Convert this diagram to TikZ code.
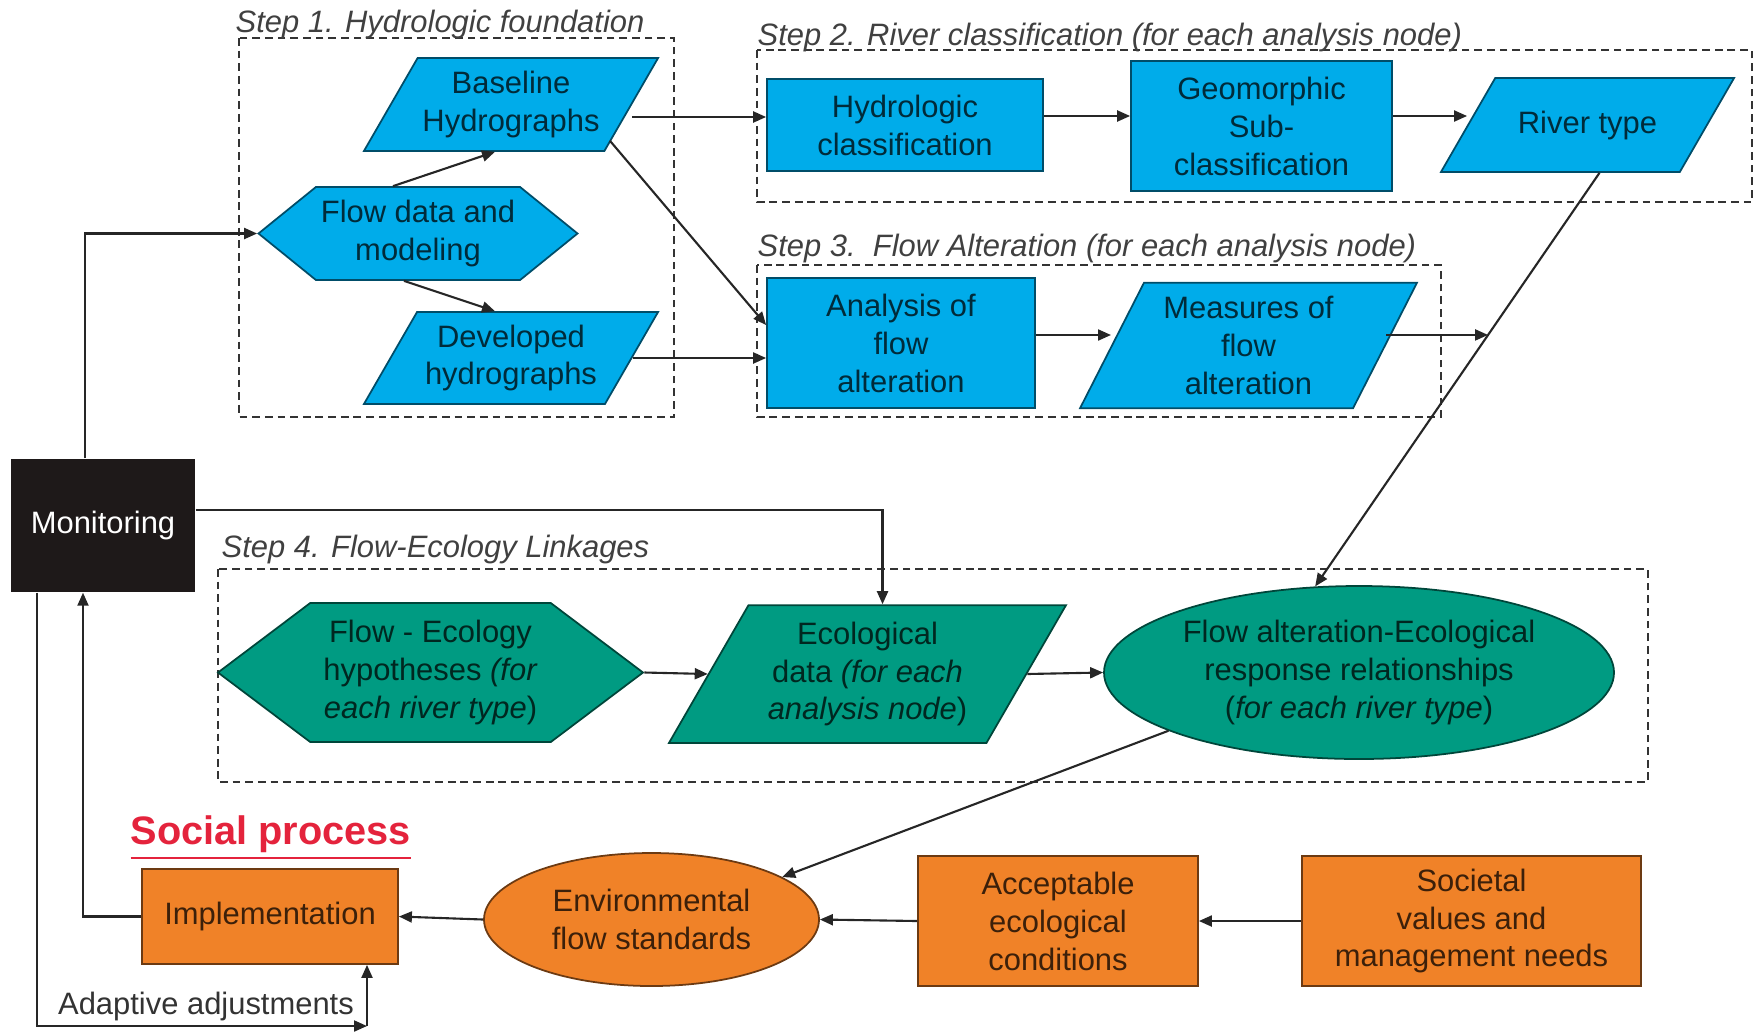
\documentclass[tikz,border=0pt]{standalone}
\usepackage{fontspec}
\setmainfont{Liberation Sans}
\usetikzlibrary{arrows.meta,positioning,shapes.geometric,shapes.symbols,calc}
\definecolor{sky}{RGB}{0,172,234}
\definecolor{sea}{RGB}{0,155,130}
\definecolor{tang}{RGB}{240,130,40}
\definecolor{monblack}{RGB}{30,25,25}
\definecolor{socred}{RGB}{228,35,60}
\tikzset{
  >={Triangle[length=1.3mm,width=1.1mm]},
  txt/.style={font=\fontsize{8.8}{10.8}\selectfont,align=center},
  box/.style={rectangle,draw=#1!45!black,fill=#1,text=#1!25!black,txt,
    inner sep=1pt,line width=0.5pt},
  box/.default=sky,
  para/.style={trapezium,trapezium left angle=60,trapezium right angle=120,
    trapezium stretches body=true,draw=#1!45!black,fill=#1,text=#1!25!black,txt,
    inner xsep=1pt,line width=0.5pt},
  para/.default=sky,
  hexa/.style={signal,signal to=west and east,signal pointer angle=78,
    draw=#1!45!black,fill=#1,text=#1!25!black,txt,inner sep=1pt,line width=0.5pt},
  hexa/.default=sky,
  oval/.style={ellipse,draw=#1!45!black,fill=#1,text=#1!25!black,txt,
    inner sep=0pt,line width=0.5pt},
  oval/.default=sea,
  frame/.style={draw=black!80,dash pattern=on 2.2pt off 1.4pt,line width=0.6pt},
  flow/.style={->,line width=0.6pt,draw=black!85},
  steplabel/.style={font=\fontsize{8.8}{10.8}\selectfont\itshape,text=black!75,
    anchor=west,inner sep=0pt},
}
\begin{document}
\begin{tikzpicture}
  \useasboundingbox (0,0) rectangle (17.56,-10.33);
  % dashed step frames
  \draw[frame] (2.39,-0.38) rectangle (6.74,-4.17);
  \draw[frame] (7.57,-0.50) rectangle (17.52,-2.02);
  \draw[frame] (7.57,-2.65) rectangle (14.41,-4.17);
  \draw[frame] (2.18,-5.69) rectangle (16.48,-7.82);
  \node[steplabel] (step1) at (2.35,-0.24) {Step 1. Hydrologic foundation};
  \node[steplabel] (step2) at (7.57,-0.37) {Step 2. River classification (for each analysis node)};
  \node[steplabel] (step3) at (7.57,-2.48) {Step 3.\ \ Flow Alteration (for each analysis node)};
  \node[steplabel] (step4) at (2.21,-5.49) {Step 4. Flow-Ecology Linkages};

  % step 1
  \node[para,minimum width=2.94cm,inner ysep=1.3mm] (base) at (5.11,-1.045) {Baseline\\Hydrographs};
  \node[hexa,minimum width=3.19cm,minimum height=0.93cm] (flow) at (4.18,-2.335) {Flow data and\\modeling};
  \node[para,minimum width=2.94cm,inner ysep=1.25mm] (dev) at (5.11,-3.58) {Developed\\hydrographs};
  % step 2
  \node[box,minimum width=2.76cm,minimum height=0.92cm] (hydro) at (9.05,-1.25) {Hydrologic\\classification};
  \node[box,minimum width=2.61cm,minimum height=1.30cm] (geo) at (12.615,-1.26) {Geomorphic\\Sub-\\classification};
  \node[para,minimum width=2.93cm,inner ysep=3.25mm] (river) at (15.875,-1.25) {River type};
  % step 3
  \node[box,minimum width=2.68cm,minimum height=1.30cm] (ana) at (9.01,-3.43) {Analysis of\\flow\\alteration};
  \node[para,trapezium left angle=63,trapezium right angle=117,minimum width=3.37cm,inner ysep=1.35mm] (meas) at (12.485,-3.455) {Measures of\\flow\\alteration};
  % step 4
  \node[hexa=sea,signal pointer angle=74,minimum width=4.25cm,minimum height=1.39cm] (fe) at (4.305,-6.725) {Flow - Ecology\\hypotheses \textit{(for}\\\textit{each river type})};
  \node[para=sea,minimum width=3.97cm,inner ysep=1.65mm] (eda) at (8.675,-6.74) {Ecological\\data \textit{(for each}\\\textit{analysis node})};
  \node[oval,minimum width=5.10cm,minimum height=1.73cm] (rel) at (13.59,-6.725) {Flow alteration-Ecological\\response relationships\\(\textit{for each river type})};

  \node[fill=monblack,text=white,txt,minimum width=1.84cm,minimum height=1.33cm] (mon) at (1.03,-5.255) {Monitoring};

  % social process
  \node[font=\fontsize{11.3}{13}\selectfont\bfseries,text=socred,anchor=west,inner sep=0pt] (social) at (1.30,-8.38) {\underline{Social process}};
  \node[box=tang,minimum width=2.56cm,minimum height=0.95cm] (impl) at (2.70,-9.165) {Implementation};
  \node[oval=tang,minimum width=3.35cm,minimum height=1.33cm] (env) at (6.515,-9.195) {Environmental\\flow standards};
  \node[box=tang,minimum width=2.80cm,minimum height=1.30cm] (acc) at (10.58,-9.21) {Acceptable\\ecological\\conditions};
  \node[box=tang,minimum width=3.39cm,minimum height=1.30cm] (soc) at (14.715,-9.21) {Societal\\values and\\management needs};

  % connectors
  \draw[flow] ([xshift=-2.5mm]flow.north) -- ([xshift=-1.6mm]base.south);
  \draw[flow] ([xshift=-1.4mm]flow.south) -- ([xshift=-1.6mm]dev.north);
  \draw[flow] ([yshift=-1.25mm]base.east) -- ([yshift=-1.25mm]base.east -| hydro.west);
  \draw[flow] ([shift={(0.05,0.11)}]base.bottom right corner) -- ([yshift=1.8mm]ana.west);
  \draw[flow] (dev.east) -- (dev.east -| ana.west);
  \draw[flow] ([yshift=0.9mm]hydro.east) -- ([yshift=0.9mm]hydro.east -| geo.west);
  \draw[flow] ([yshift=1mm]geo.east) -- ([yshift=1mm]geo.east -| river.west);
  \draw[flow] ([yshift=0.8mm]ana.east) -- ([yshift=0.8mm]ana.east -| meas.west);
  \coordinate (rtop) at ([xshift=1.2mm]river.south);
  \coordinate (merge) at ($(rtop)!0.392!(rel.117)$);
  \draw[flow] (rtop) -- (rel.117);
  \draw[flow] (meas.east |- merge) -- (merge);
  \draw[flow] ([xshift=-1.8mm]mon.north) |- (flow.west);
  \draw[flow] ([yshift=1.55mm]mon.east) -| ([xshift=1.5mm]eda.north);
  \draw[flow] (fe.east) -- (eda.west);
  \draw[flow] (eda.east) -- (rel.west);
  \draw[flow] (rel.197) -- (env.18);
  \draw[flow] (soc.west) -- (acc.east);
  \draw[flow] (acc.west) -- (env.east);
  \draw[flow] (env.west) -- (impl.east);
  \draw[flow] (impl.west) -| ([xshift=-2mm]mon.south);
  \coordinate (adj) at ([xshift=9.7mm]impl.south |- 0,-10.26);
  \draw[flow] ([xshift=-6.6mm]mon.south) |- (adj);
  \draw[flow] (adj) -- (adj |- impl.south);
  \node[txt,text=black!80,inner sep=0pt] (adjlabel) at (2.06,-10.06) {Adaptive adjustments};
\end{tikzpicture}
\end{document}
